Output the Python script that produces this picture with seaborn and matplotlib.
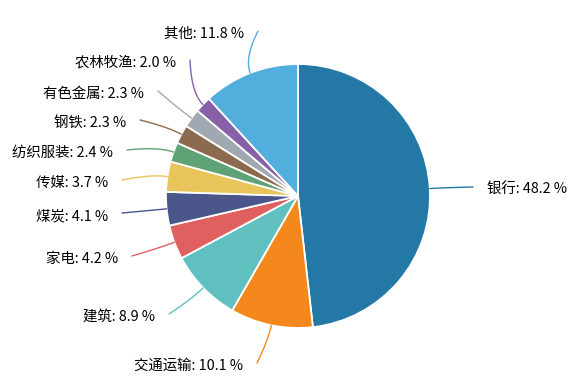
import numpy as np
import matplotlib
matplotlib.use("Agg")
import matplotlib.pyplot as plt
import seaborn as sns

categories = ["银行", "交通运输", "建筑", "家电", "煤炭", "传媒", "纺织服装", "钢铁", "有色金属", "农林牧渔", "其他"]
values = [48.2, 10.1, 8.9, 4.2, 4.1, 3.7, 2.4, 2.3, 2.3, 2.0, 11.8]
colors = ["#2378a5", "#f5881d", "#60c0c0", "#e06060", "#4a5689", "#e8c45a",
          "#5fa275", "#8c6a4e", "#a0a9b1", "#8860a8", "#52aedc"]

# label anchor positions in pixel coordinates (layout only)
label_pos = [(473, 187), (257, 363), (169, 314), (132, 256), (122, 213), (122, 180),
             (127, 150), (140, 120), (158, 91), (190, 60), (258, 31)]

sns.set_theme(style="white")
plt.rcParams['font.family'] = ['Noto Sans CJK SC', 'DejaVu Sans']

W, H = 582, 382
fig = plt.figure(figsize=(W / 100, H / 100), dpi=100)
ax = fig.add_axes([0, 0, 1, 1])

cx, cy, r = 298, H - 196, 132
wedges, _ = ax.pie(values, colors=colors, startangle=90, counterclock=False,
                   center=(cx, cy), radius=r, frame=True,
                   wedgeprops=dict(edgecolor="white", linewidth=1.3))
ax.set_xlim(0, W)
ax.set_ylim(0, H)
ax.set_aspect("equal")
ax.axis("off")

for w, cat, val, col, (lx, ly) in zip(wedges, categories, values, colors, label_pos):
    ang = np.deg2rad((w.theta1 + w.theta2) / 2)
    d = np.array([np.cos(ang), np.sin(ang)])
    p0 = np.array([cx, cy]) + d * r
    p1 = np.array([cx, cy]) + d * (r + 16)
    p2 = np.array([lx, H - ly])
    t = np.linspace(0, 1, 40)[:, None]
    pts = (1 - t) ** 2 * p0 + 2 * (1 - t) * t * p1 + t ** 2 * p2
    ax.plot(pts[:, 0], pts[:, 1], color=col, lw=1.0, solid_capstyle="round")
    right = lx > cx
    ax.text(lx + (14 if right else -14), H - ly - 3, f"{cat}: {val} %",
            ha="left" if right else "right", va="center", fontsize=10.4,
            color="#000000", fontweight="medium")

fig.savefig("out.png", dpi=100)
